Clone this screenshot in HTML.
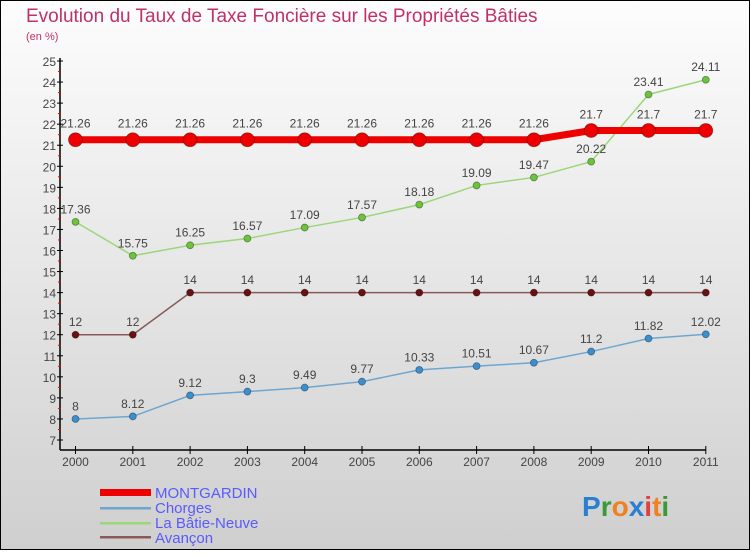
<!DOCTYPE html>
<html><head><meta charset="utf-8"><style>
body{margin:0;width:750px;height:550px;overflow:hidden;font-family:"Liberation Sans",sans-serif}
</style></head><body>
<svg width="750" height="550" xmlns="http://www.w3.org/2000/svg">
<defs><linearGradient id="bg" x1="0" y1="0" x2="0" y2="1"><stop offset="0" stop-color="#fdfdfd"/><stop offset="1" stop-color="#cfcfcf"/></linearGradient></defs>
<rect x="0.5" y="0.5" width="749" height="549" fill="url(#bg)" stroke="#000"/>
<text x="26" y="22" font-size="19" fill="#c0306a">Evolution du Taux de Taxe Foncière sur les Propriétés Bâties</text>
<text x="26" y="40" font-size="11" fill="#c0306a">(en %)</text>
<g id="axes"></g>
<g id="series"></g>
<g id="legend" font-size="15" fill="#5a5aff">
<rect x="100" y="489" width="51" height="7" fill="#e00"/>
<text x="155" y="498">MONTGARDIN</text>
<rect x="100" y="507" width="51" height="2.5" fill="#6fa6d0"/>
<text x="155" y="513">Chorges</text>
<rect x="100" y="522" width="51" height="2.5" fill="#9cd67a"/>
<text x="155" y="528">La Bâtie-Neuve</text>
<rect x="100" y="536" width="51" height="2.5" fill="#8a5a5a"/>
<text x="155" y="543">Avançon</text>
</g>
<text x="582" y="516" font-size="28" font-weight="bold"><tspan fill="#2a7fd0">P</tspan><tspan fill="#3a9a3a">r</tspan><tspan fill="#f08020">o</tspan><tspan fill="#2a7fd0">x</tspan><tspan fill="#e04040">i</tspan><tspan fill="#f08020">t</tspan><tspan fill="#3a9a3a">i</tspan></text>
</svg>
<script>
const years=[2000,2001,2002,2003,2004,2005,2006,2007,2008,2009,2010,2011];
const montgardin=[21.26,21.26,21.26,21.26,21.26,21.26,21.26,21.26,21.26,21.7,21.7,21.7];
const chorges=[8,8.12,9.12,9.3,9.49,9.77,10.33,10.51,10.67,11.2,11.82,12.02];
const batie=[17.36,15.75,16.25,16.57,17.09,17.57,18.18,19.09,19.47,20.22,23.41,24.11];
const avancon=[12,12,14,14,14,14,14,14,14,14,14,14];
const yTicks=[7,8,9,10,11,12,13,14,15,16,17,18,19,20,21,22,23,24,25];
const NS="http://www.w3.org/2000/svg";
const X=i=>75.5+i*57.3;
const Y=v=>440-(v-7)*(379/18);
function mk(t,a,p){const e=document.createElementNS(NS,t);for(const k in a)e.setAttribute(k,a[k]);p.appendChild(e);return e;}
const ax=document.getElementById('axes');
let l=mk('line',{x1:60,y1:58,x2:60,y2:450,stroke:'#000','stroke-width':1.5},ax);


l=mk('line',{x1:60,y1:450,x2:706,y2:450,stroke:'#000','stroke-width':1.5},ax);


yTicks.forEach(v=>{
 mk('line',{x1:57,y1:Y(v),x2:63,y2:Y(v),stroke:'#000'},ax);
 if(v<25) mk('line',{x1:58,y1:Y(v+0.5),x2:61,y2:Y(v+0.5),stroke:'#e00'},ax);
 const t=mk('text',{x:56,y:Y(v)+5,'text-anchor':'end','font-size':12,fill:'#444'},ax);t.textContent=v;
 
 
});
years.forEach((y,i)=>{
 mk('line',{x1:X(i),y1:446,x2:X(i),y2:454,stroke:'#000'},ax);
 const t=mk('text',{x:X(i),y:466,'text-anchor':'middle','font-size':12,fill:'#444'},ax);t.textContent=y;
 
 
});
const sg=document.getElementById('series');
function series(data,color,dot,w,r,name){
 const g=mk('g',{},sg);
 
 
 mk('polyline',{points:data.map((v,i)=>X(i)+','+Y(v)).join(' '),fill:'none',stroke:color,'stroke-width':w},g);
 data.forEach((v,i)=>{
  const c=mk('circle',{cx:X(i),cy:Y(v),r:r,fill:dot,stroke:'rgba(0,0,0,0.4)','stroke-width':0.8},g);
  
  
  const t=mk('text',{x:X(i),y:Y(v)-(r+5),'text-anchor':'middle','font-size':12,fill:'#444'},g);t.textContent=v;
  
  
 });
}
series(chorges,'#6fa6d0','#3a8fd0',1.5,3.5,'chorges');
series(avancon,'#8a5a5a','#6a1010',1.5,3.5,'avancon');
series(batie,'#9cd67a','#6cc43a',1.5,3.5,'batie-neuve');
series(montgardin,'#e00','#e00',7,7,'montgardin');
</script>
</body></html>
